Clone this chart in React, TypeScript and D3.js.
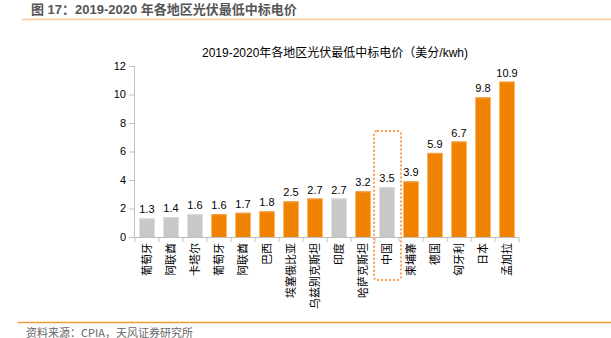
import React from "react";
import * as d3 from "d3";

const categories = ["葡萄牙", "阿联酋", "卡塔尔", "葡萄牙", "阿联酋", "巴西", "埃塞俄比亚", "乌兹别克斯坦", "印度", "哈萨克斯坦", "中国", "柬埔寨", "德国", "匈牙利", "日本", "孟加拉"];
const values = [1.3, 1.4, 1.6, 1.6, 1.7, 1.8, 2.5, 2.7, 2.7, 3.2, 3.5, 3.9, 5.9, 6.7, 9.8, 10.9];
const greyFlags = [true, true, true, false, false, false, false, false, true, false, true, false, false, false, false, false];
const yTicks = [0, 2, 4, 6, 8, 10, 12];
const highlight = "中国";

const W = 611, H = 338;
const latin = "'Liberation Sans', Arial, 'Noto Sans CJK SC', sans-serif";
const cjk = "'Noto Sans CJK SC', 'Liberation Sans', sans-serif";

export default function App() {
  const x = d3.scaleBand<number>().domain(d3.range(categories.length)).range([135, 519]).paddingInner(0.37).paddingOuter(0.185);
  const y = d3.scaleLinear().domain([0, 12]).range([237, 66]);
  const step = x.step();
  const hi = categories.indexOf(highlight);
  const hx = (x(hi) as number) + x.bandwidth() / 2;
  return (
    <svg width={W} height={H} style={{ position: "absolute", left: 0, top: 0, background: "#fff" }}>
      <text x={31} y={14} fontFamily={latin} fontSize={13} fontWeight="bold" fill="#555">图 17：2019-2020 年各地区光伏最低中标电价</text>
      <line x1={22} x2={611} y1={19.5} y2={19.5} stroke="#f9c594" strokeWidth={1.5} />
      <text x={335} y={57} textAnchor="middle" fontFamily={latin} fontSize={12} fill="#000">2019-2020年各地区光伏最低中标电价（美分/kwh)</text>
      {/* y axis */}
      <line x1={134.5} x2={134.5} y1={y(12)} y2={y(0)} stroke="#bfbfbf" />
      {yTicks.map(t => (
        <g key={t}>
          <line x1={129} x2={134.5} y1={y(t) + 0.5} y2={y(t) + 0.5} stroke="#bfbfbf" />
          <text x={126} y={y(t)} dy="0.35em" textAnchor="end" fontFamily={latin} fontSize={11} fill="#000">{t}</text>
        </g>
      ))}
      {/* x axis */}
      <line x1={134.5} x2={519.5} y1={237.5} y2={237.5} stroke="#bfbfbf" />
      {d3.range(categories.length + 1).map(i => (
        <line key={i} x1={135 + i * step} x2={135 + i * step} y1={237.5} y2={242} stroke="#bfbfbf" />
      ))}
      {values.map((v, i) => (
        <g key={i}>
          <rect x={x(i)} y={y(v)} width={x.bandwidth()} height={y(0) - y(v)} fill={greyFlags[i] ? "#c8c8c8" : "#f08300"} />
          <rect x={x(i)} y={y(v)} width={x.bandwidth()} height={1} fill={greyFlags[i] ? "#d9d9d9" : "#f5a04a"} />
          <text x={(x(i) as number) + x.bandwidth() / 2} y={y(v) - 5} textAnchor="middle" fontFamily={latin} fontSize={11} fill="#000">{v.toFixed(1)}</text>
          <text transform={`translate(${(x(i) as number) + x.bandwidth() / 2},243) rotate(-90)`} dy="0.35em" textAnchor="end" fontFamily={cjk} fontSize={11} fill="#000">{categories[i]}</text>
        </g>
      ))}
      <rect x={hx - 13} y={131} width={27} height={149} rx={3} fill="none" stroke="#f5a05a" strokeWidth={2} strokeDasharray="2 2" />
      <line x1={18} x2={611} y1={322.5} y2={322.5} stroke="#f39a3a" strokeWidth={1.5} />
      <text x={26} y={337} fontFamily={cjk} fontSize={11} fill="#666">资料来源：CPIA，天风证券研究所</text>
    </svg>
  );
}
